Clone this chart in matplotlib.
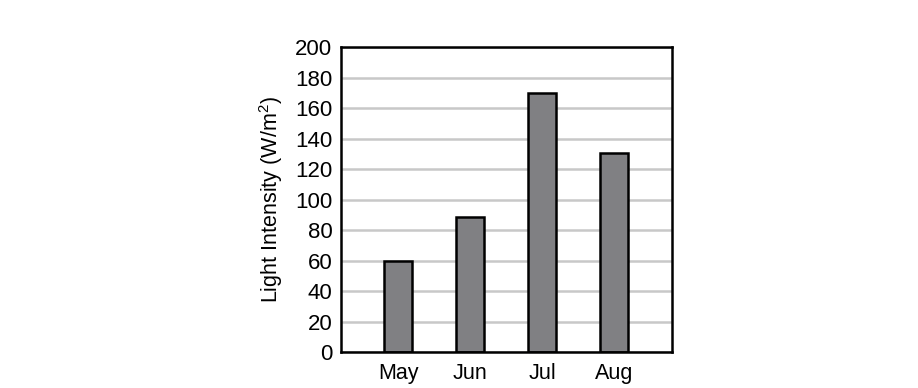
import matplotlib
matplotlib.use("Agg")
import matplotlib.pyplot as plt

months = ["May", "Jun", "Jul", "Aug"]
intensity = [60, 89, 170, 131]
yticks = [0, 20, 40, 60, 80, 100, 120, 140, 160, 180, 200]

plt.rcParams['font.family'] = ['Liberation Sans', 'DejaVu Sans']
plt.rcParams['mathtext.default'] = 'regular'

fig = plt.figure(figsize=(9.18, 3.88), dpi=100)
W, H = 918, 388
ax = fig.add_axes([340.7 / W, 1 - 352.3 / H, (671.7 - 340.7) / W, (352.3 - 47.3) / H])

x = list(range(len(months)))
ax.bar(x, intensity, width=0.39, color="#808083", edgecolor="black", linewidth=1.8, zorder=3)

ax.set_xlim(-0.8, 3.8)
ax.set_ylim(0, 200)
ax.set_yticks(yticks)
ax.set_xticks(x)
ax.set_xticklabels(months)
ax.yaxis.grid(True, color="#c8c8c8", linewidth=1.8, zorder=0)
ax.set_axisbelow(True)
ax.tick_params(axis="both", length=0, labelsize=15.5, colors="black")
ax.tick_params(axis="y", labelsize=16, pad=6)
ax.tick_params(axis="x", pad=8)
for s in ax.spines.values():
    s.set_linewidth(1.8)
    s.set_color("black")
    s.set_zorder(4)
ax.set_ylabel("Light Intensity (W/m$^2$)", fontsize=15.5, labelpad=7)

fig.savefig("out.png", dpi=100)
